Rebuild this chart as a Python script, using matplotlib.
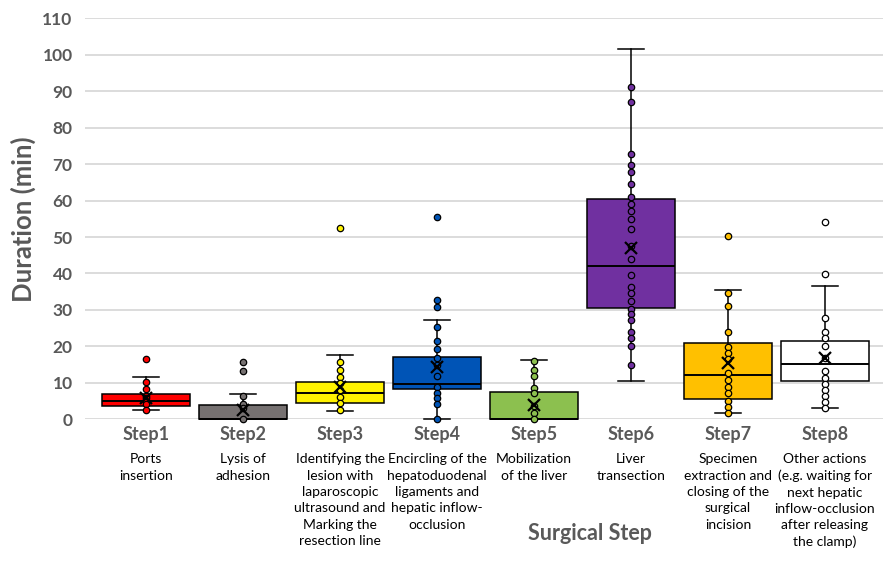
import matplotlib
matplotlib.use("Agg")
import matplotlib.pyplot as plt

plt.rcParams['font.family'] = ['Lato', 'DejaVu Sans']

steps = ["Step1", "Step2", "Step3", "Step4", "Step5", "Step6", "Step7", "Step8"]
descriptions = [
    "Ports\ninsertion",
    "Lysis of\nadhesion",
    "Identifying the\nlesion with\nlaparoscopic\nultrasound and\nMarking the\nresection line",
    "Encircling of the\nhepatoduodenal\nligaments and\nhepatic inflow-\nocclusion",
    "Mobilization\nof the liver",
    "Liver\ntransection",
    "Specimen\nextraction and\nclosing of the\nsurgical\nincision",
    "Other actions\n(e.g. waiting for\nnext hepatic\ninflow-occlusion\nafter releasing\nthe clamp)",
]
colors = ["#FF0000", "#767171", "#FFF200", "#0054B6", "#8CC04F", "#7030A0", "#FFC000", "#FFFFFF"]

# box statistics (minutes)
whislo = [2.5, 0.0, 2.3, 0.0, 0.0, 10.5, 1.8, 3.2]
q1 = [3.7, 0.0, 4.6, 8.4, 0.0, 30.5, 5.6, 10.5]
med = [4.9, 0.0, 7.1, 9.8, 0.0, 42.1, 12.1, 15.1]
q3 = [6.9, 3.9, 10.1, 17.0, 7.4, 60.4, 20.8, 21.5]
whishi = [11.6, 6.9, 17.5, 27.1, 16.4, 101.7, 35.4, 36.6]
means = [5.8, 2.6, 8.9, 14.4, 3.9, 46.9, 15.4, 16.9]

# individual observations shown as dots
points = [
    [16.5, 10.2, 8.3, 6.4, 5.8, 5.0, 4.1, 2.5],
    [15.6, 13.2, 6.3, 4.1, 3.0, 0.0],
    [52.4, 15.6, 13.5, 11.7, 9.9, 8.0, 6.2, 4.4, 2.5],
    [55.6, 32.7, 30.7, 25.4, 21.5, 19.2, 16.7, 14.9, 11.9, 8.9, 7.3, 5.8, 4.1, 0.0],
    [16.0, 13.5, 11.9, 8.7, 7.1, 3.6, 1.6, 0.0],
    [91.1, 87.0, 72.8, 69.8, 67.8, 64.5, 61.1, 59.1, 57.2, 54.9, 52.2, 47.4, 43.9,
     39.7, 36.4, 34.6, 32.5, 30.2, 28.8, 27.2, 24.0, 22.2, 20.2, 14.9],
    [50.4, 34.6, 31.2, 24.0, 19.8, 18.3, 16.5, 12.8, 10.8, 8.8, 7.1, 5.1, 3.3, 1.8],
    [54.2, 39.8, 27.7, 23.9, 22.2, 20.1, 16.7, 13.3, 11.4, 9.6, 8.0, 6.4, 4.8, 3.2],
]

gray = "#595959"

fig = plt.figure(figsize=(8.83, 5.61), dpi=100)
ax = fig.add_axes([0.0963, 0.2526, 0.9037, 0.7148])

stats = []
for i in range(len(steps)):
    stats.append(dict(whislo=whislo[i], q1=q1[i], med=med[i], q3=q3[i],
                      whishi=whishi[i], mean=means[i], fliers=[]))

pos = list(range(len(steps)))
bp = ax.bxp(stats, positions=pos, widths=0.9, capwidths=0.26, patch_artist=True,
            showfliers=False, showmeans=False,
            boxprops=dict(edgecolor="black", linewidth=1.1),
            medianprops=dict(color="black", linewidth=1.4),
            whiskerprops=dict(color="black", linewidth=1.1),
            capprops=dict(color="black", linewidth=1.1))
for patch, c in zip(bp["boxes"], colors):
    patch.set_facecolor(c)
for art in bp["whiskers"] + bp["caps"] + bp["medians"] + bp["boxes"]:
    art.set_clip_on(False)
    art.set_zorder(3)

for i, vals in enumerate(points):
    ax.plot([i] * len(vals), vals, "o", ms=4.6, mfc=colors[i], mec="black",
            mew=0.9, zorder=4, clip_on=False)
    ax.plot(i, means[i], "x", ms=8, color="black", mew=1.6, zorder=5, clip_on=False)

ax.set_xlim(-0.629, 7.598)
ax.set_ylim(0, 110)
ax.set_yticks(range(0, 111, 10))
ax.yaxis.grid(True, color="#D9D9D9", linewidth=1.3)
ax.set_axisbelow(True)
for s in ax.spines.values():
    s.set_visible(False)
ax.tick_params(axis="y", length=0, pad=9, labelsize=12.5, labelcolor=gray)
for lbl in ax.get_yticklabels():
    lbl.set_fontweight("bold")
ax.set_xticks([])

tr = ax.get_xaxis_transform()
for i in range(len(steps)):
    ax.text(i, -0.037, steps[i], transform=tr, ha="center", va="center",
            fontsize=13, fontweight="bold", color=gray)
    ax.text(i, -0.085, descriptions[i], transform=tr, ha="center", va="top",
            fontsize=10, color="black", linespacing=1.43)

fig.text(23 / 883, 1 - 219 / 561, "Duration (min)", rotation=90, ha="center",
         va="center", fontsize=18.5, fontweight="bold", color=gray)
fig.text(590 / 883, 1 - 533 / 561, "Surgical Step", ha="center", va="center",
         fontsize=15.5, fontweight="bold", color=gray)

fig.savefig("out.png", dpi=100)
